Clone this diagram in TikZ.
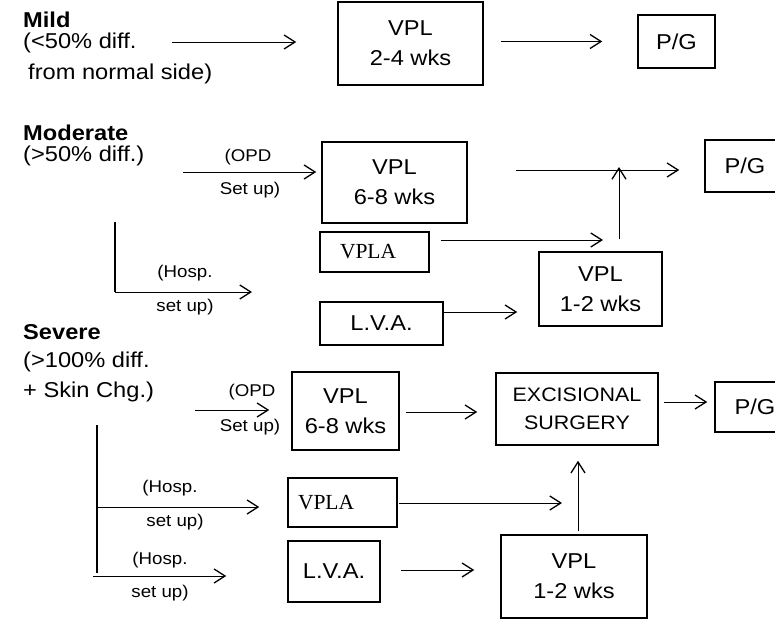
\documentclass[tikz,border=0pt]{standalone}
\usepackage{fontspec}
\setmainfont{Liberation Sans}[FakeStretch=1.1]
\newfontfamily\vpserif{Liberation Serif}
\usetikzlibrary{arrows.meta,calc}

\tikzset{
 box/.style={draw, line width=1.5pt, inner sep=0pt, align=center, font=\fontsize{21.5}{30}\selectfont},
 sz/.style 2 args={minimum width=#1pt, minimum height=#2pt},
 conn/.style={line width=0.9pt, -{Straight Barb[length=11pt,width=14pt,line width=1.3pt]}},
 bar/.style={line width=1.6pt},
 lbl/.style={font=\fontsize{21.5}{24}\selectfont, anchor=west, inner sep=0pt},
 head/.style={lbl, font=\fontsize{21.5}{24}\selectfont\bfseries},
 small/.style={font=\fontsize{17}{18}\selectfont, inner sep=0pt},
}

\begin{document}
\begin{tikzpicture}[x=1pt,y=-1pt]
\useasboundingbox (0,0) rectangle (775,620);

% ---- headings ----
\node[head] (mild) at (23,20) {Mild};
\node[lbl] (mildt1) at (23,43) {(<50\% diff.};
\node[lbl] (mildt2) at (28,74) {from normal side)};
\node[head] (mod) at (23,132.5) {Moderate};
\node[lbl] (modt) at (23,156) {(>50\% diff.)};
\node[head] (sev) at (23,332) {Severe};
\node[lbl] (sevt1) at (23,362) {(>100\% diff.};
\node[lbl] (sevt2) at (23,392) {+ Skin Chg.)};

% ---- boxes ----
\node[box, sz={145}{83}] (vplA) at (410.5,43.5) {VPL\\2-4 wks};
\node[box, sz={77}{53}] (pgA) at (676.5,41.5) {P/G};

\node[box, sz={145}{81}] (vplB) at (394.5,182.5) {VPL\\6-8 wks};
\node[box, sz={80}{52}] (pgB) at (745,166) {P/G};
\node[box, sz={109}{40}, inner xsep=20pt, text width=69pt, align=left] (vplaB) at (374.5,252) {\vpserif VPLA};
\node[box, sz={123}{43}] (lvaB) at (381.5,323.5) {L.V.A.};
\node[box, sz={123}{74}] (vpl12B) at (600.5,289) {VPL\\1-2 wks};

\node[box, sz={107}{78}] (vplC) at (345.5,411) {VPL\\6-8 wks};
\node[box, sz={162}{72}, font=\fontsize{19.5}{28}\selectfont] (exC) at (577,409) {EXCISIONAL\\SURGERY};
\node[box, sz={80}{50}] (pgC) at (755,407) {P/G};
\node[box, sz={109}{49}, inner xsep=10pt, text width=89pt, align=left] (vplaC) at (342.5,502.5) {\vpserif VPLA};
\node[box, sz={92}{61}] (lvaC) at (334,571.5) {L.V.A.};
\node[box, sz={146}{83}] (vpl12C) at (574,576.5) {VPL\\1-2 wks};

% ---- small labels ----
\node[small] (opdB) at (248,157) {(OPD};
\node[small] (setB) at (250,190) {Set up)};
\node[small] (hospB1) at (185,273) {(Hosp.};
\node[small] (hospB2) at (185,307) {set up)};
\node[small] (opdC) at (252,392) {(OPD};
\node[small] (setC) at (250,427) {Set up)};
\node[small] (hospC1) at (170,488) {(Hosp.};
\node[small] (hospC2) at (175,522) {set up)};
\node[small] (hospD1) at (160,560) {(Hosp.};
\node[small] (hospD2) at (160,593) {set up)};

% ---- Mild connectors ----
\coordinate (m1) at (172,42);
\draw[conn, shorten >=41pt] (m1) -- (m1 -| vplA.west);
\draw[conn, shorten <=17pt, shorten >=35pt] (vplA.east |- pgA.west) -- (pgA.west);

% ---- Moderate connectors ----
\coordinate (mo) at (183,172);
\draw[conn, shorten >=5pt] (mo) -- (mo -| vplB.west);
\coordinate (j1) at (619,170);
\draw[conn, shorten <=48pt, shorten >=25pt] (vplB.east |- j1) -- (j1 -| pgB.west);
\draw[conn, shorten <=12pt, shorten >=-3pt] (j1 |- vpl12B.north) -- (j1);
\coordinate (mb1) at (115,222);
\coordinate (mb2) at (115,292);
\coordinate (mb3) at (252,292);
\draw[bar] (mb1) -- (mb2);
\draw[conn] (mb2) -- (mb3);
\coordinate (j2) at (603,240);
\draw[conn, shorten <=11pt] (vplaB.east |- j2) -- (j2);
\coordinate (a6) at ([yshift=11.5pt]lvaB.east);
\draw[conn, shorten >=21pt] (a6) -- (a6 -| vpl12B.west);

% ---- Severe connectors ----
\coordinate (so) at (195,410);
\draw[conn, shorten >=22pt] (so) -- (so -| vplC.west);
\coordinate (c1) at ([yshift=-1pt]vplC.east);
\draw[conn, shorten <=6pt, shorten >=18pt] (c1) -- (c1 -| exC.west);
\coordinate (c2) at ([yshift=7pt]exC.east);
\draw[conn, shorten <=5pt, shorten >=7pt] (c2) -- (c2 -| pgC.west);
\coordinate (j3) at (578,503);
\draw[conn, shorten <=3pt, shorten >=15pt] (j3 |- vpl12C.north) -- (j3 |- exC.south);
\coordinate (sb1) at (97,425);
\coordinate (sb2) at (97,573);
\draw[bar] (sb1) -- (sb2);
\coordinate (sh1) at (97,507);
\draw[conn, shorten >=28pt] (sh1) -- (sh1 -| vplaC.west);
\coordinate (sh2) at (93,576);
\draw[conn, shorten >=61pt] (sh2) -- (sh2 -| lvaC.west);
\draw[conn, shorten <=1pt, shorten >=16pt] (vplaC.east |- j3) -- (j3);
\coordinate (c3) at ([yshift=1.5pt]lvaC.east);
\draw[conn, shorten <=20pt, shorten >=26pt] (c3) -- (c3 -| vpl12C.west);
\end{tikzpicture}
\end{document}
